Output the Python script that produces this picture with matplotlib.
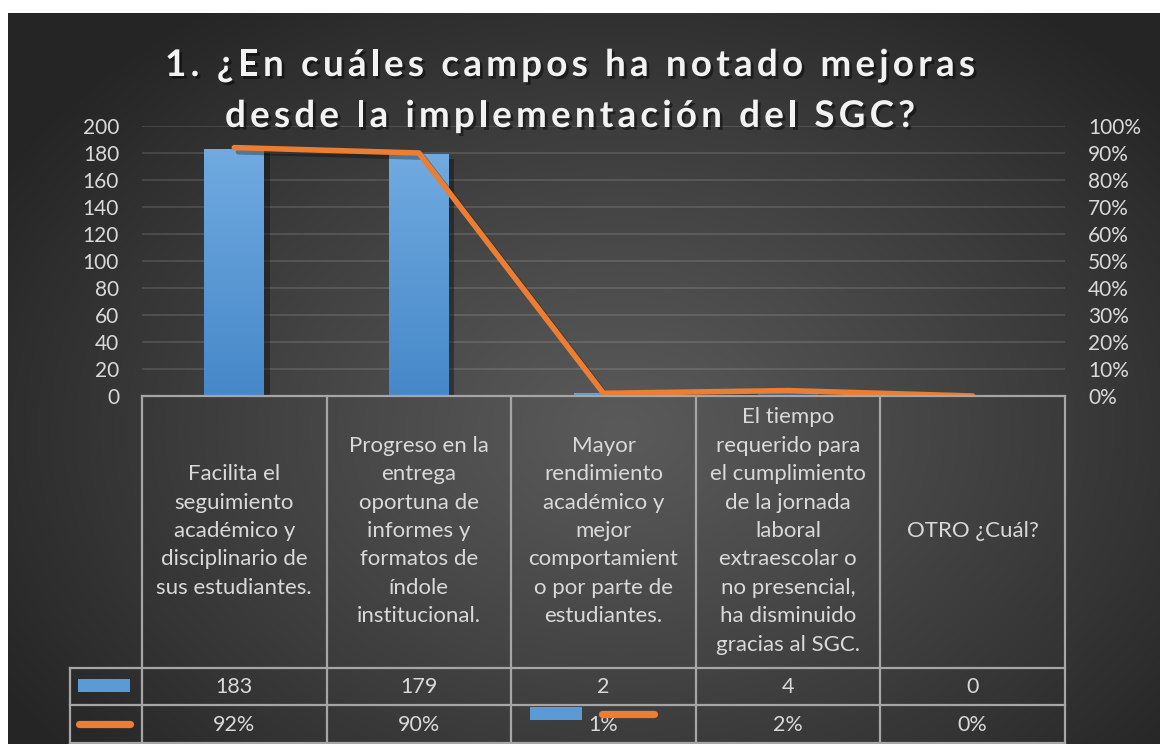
import numpy as np
import matplotlib
matplotlib.use("Agg")
import matplotlib.pyplot as plt
from matplotlib.colors import LinearSegmentedColormap, to_rgb
from matplotlib.font_manager import FontProperties
from matplotlib.lines import Line2D
from matplotlib.patches import Rectangle
from matplotlib.transforms import blended_transform_factory
import matplotlib.patheffects as pe

# ---------------- data ----------------
categories = [
    "Facilita el\nseguimiento\nacadémico y\ndisciplinario de\nsus estudiantes.",
    "Progreso en la\nentrega\noportuna de\ninformes y\nformatos de\níndole\ninstitucional.",
    "Mayor\nrendimiento\nacadémico y\nmejor\ncomportamient\no por parte de\nestudiantes.",
    "El tiempo\nrequerido para\nel cumplimiento\nde la jornada\nlaboral\nextraescolar o\nno presencial,\nha disminuido\ngracias al SGC.",
    "OTRO ¿Cuál?",
]
counts = [183, 179, 2, 4, 0]
percents = [0.92, 0.90, 0.01, 0.02, 0.00]
count_labels = ["183", "179", "2", "4", "0"]
percent_labels = ["92%", "90%", "1%", "2%", "0%"]
left_ticks = list(range(0, 201, 20))
right_ticks = [i / 10 for i in range(11)]
right_tick_labels = [f"{i*10}%" for i in range(11)]
title_lines = ["1. ¿En cuáles campos ha notado mejoras",
               "desde la implementación del SGC?"]

# ---------------- style ----------------
W, H = 1160, 744
FONT = "Lato"
TXT = "#d9d9d9"
BLUE = "#5b9bd5"
BLUE_TOP = "#70aae0"
BLUE_BOT = "#4688c9"
ORANGE = "#ed7d31"
GRIDC = "#ffffff"
TABLE_LINE = "#a6a6a6"

plt.rcParams["font.family"] = [FONT, "DejaVu Sans"]

def fx(px):
    return px / W

def fy(py):
    return 1 - py / H

fig = plt.figure(figsize=(W / 100, H / 100), dpi=100, facecolor="white")

# background radial gradient
bg = fig.add_axes([fx(8), 0, fx(W - 8), (H - 13) / H], zorder=-10)
bg.set_axis_off()
yy, xx = np.mgrid[13:H, 8:W]
cx, cy = 620, 430
d = np.sqrt(((xx - cx) / 720.0) ** 2 + ((yy - cy) / 520.0) ** 2)
d = np.clip(d, 0, 1) ** 1.1
c0 = np.array(to_rgb("#5a5a5a"))
c1 = np.array(to_rgb("#252525"))
img = c0[None, None, :] * (1 - d[..., None]) + c1[None, None, :] * d[..., None]
bg.imshow(img, aspect="auto", interpolation="bilinear")

# main axes
ax = fig.add_axes([fx(142), fy(396), fx(1065 - 142), 270 / H])
ax.set_facecolor("none")
x = np.arange(len(categories))
bar_w = 0.325
bars = ax.bar(x, counts, width=bar_w, color=BLUE, zorder=3,
              path_effects=[pe.SimplePatchShadow(offset=(4, -3), shadow_rgbFace="black", alpha=0.35),
                            pe.Normal()])
cmap = LinearSegmentedColormap.from_list("bar", [BLUE_BOT, BLUE_TOP])
grad = np.linspace(0, 1, 256).reshape(-1, 1)
for b in bars:
    if b.get_height() <= 0:
        continue
    x0, y0 = b.get_x(), b.get_y()
    im = ax.imshow(grad, extent=[x0, x0 + b.get_width(), y0, y0 + b.get_height()],
                   origin="lower", cmap=cmap, aspect="auto", zorder=3.5, interpolation="bilinear")
    im.set_clip_path(b)

ax.set_xlim(-0.5, len(categories) - 0.5)
ax.set_ylim(0, 200)
ax.set_yticks(left_ticks)
ax.set_yticklabels([str(t) for t in left_ticks])
ax.set_xticks([])
for s in ax.spines.values():
    s.set_visible(False)
ax.tick_params(axis="y", length=0, pad=16.5, labelsize=15, labelcolor=TXT)
ax.yaxis.grid(True, color=GRIDC, alpha=0.13, linewidth=1.3, zorder=0)
ax.set_axisbelow(True)

ax2 = ax.twinx()
ax2.set_ylim(0, 1)
ax2.set_yticks(right_ticks)
ax2.set_yticklabels(right_tick_labels)
for s in ax2.spines.values():
    s.set_visible(False)
ax2.tick_params(axis="y", length=0, pad=16.5, labelsize=15, labelcolor=TXT)
ax2.plot(x, percents, color=ORANGE, linewidth=4.0, solid_capstyle="round", zorder=5,
         path_effects=[pe.SimpleLineShadow(offset=(3, -3), shadow_color="black", alpha=0.3),
                       pe.Normal()])

# ---------------- data table ----------------
bt = blended_transform_factory(ax.transData, fig.transFigure)
lw = 1.6
fig.add_artist(Line2D([fx(142), fx(1065)], [fy(396), fy(396)], color=TABLE_LINE, lw=lw, zorder=6))
for py in (668, 705, 743):
    fig.add_artist(Line2D([fx(70), fx(1065)], [fy(py), fy(py)], color=TABLE_LINE, lw=lw))
for xb in np.arange(-0.5, len(categories), 1.0):
    fig.add_artist(Line2D([xb, xb], [fy(396), fy(744)], color=TABLE_LINE, lw=lw, transform=bt))
fig.add_artist(Line2D([fx(70), fx(70)], [fy(668), fy(744)], color=TABLE_LINE, lw=lw))

for i, lab in enumerate(categories):
    fig.text(x[i], fy(531), lab, transform=bt, ha="center", va="center",
             multialignment="center", color=TXT, fontsize=16, linespacing=1.53)
    fig.text(x[i], fy(687), count_labels[i], transform=bt, ha="center", va="center",
             color=TXT, fontsize=15.5)
    fig.text(x[i], fy(725), percent_labels[i], transform=bt, ha="center", va="center",
             color=TXT, fontsize=15.5)

# legend keys inside the table
fig.add_artist(Rectangle((fx(78), fy(692)), fx(52), 13 / H, facecolor=BLUE, edgecolor="none"))
fig.add_artist(Line2D([fx(79), fx(130)], [fy(724), fy(724)], color=ORANGE, lw=5.2,
                      solid_capstyle="round"))
# floating legend
fig.add_artist(Rectangle((fx(530), fy(720)), fx(52), 13 / H, facecolor=BLUE, edgecolor="none", zorder=8))
fig.add_artist(Line2D([fx(602), fx(654)], [fy(714), fy(714)], color=ORANGE, lw=5.2,
                      solid_capstyle="round", zorder=8))

# ---------------- title with letter spacing ----------------
renderer = fig.canvas.get_renderer()
tprop = FontProperties(family=FONT, weight="bold", size=26.5)

def text_w(s):
    w, h, dsc = renderer.get_text_width_height_descent(s + "l", tprop, ismath=False)
    w0, _, _ = renderer.get_text_width_height_descent("l", tprop, ismath=False)
    return w - w0

def spaced_title(s, cx_px, base_px, target_w):
    nat = text_w(s)
    sp = (target_w - nat) / max(len(s) - 1, 1)
    start = cx_px - target_w / 2
    for i, ch in enumerate(s):
        off = text_w(s[:i]) + i * sp
        fig.text(fx(start + off), fy(base_px), ch, fontproperties=tprop, color="#f2f2f2",
                 ha="left", va="baseline",
                 path_effects=[pe.SimplePatchShadow(offset=(2, -2), shadow_rgbFace="black", alpha=0.45),
                               pe.Normal()])

spaced_title(title_lines[0], 570, 76, 810)
spaced_title(title_lines[1], 570, 127, 690)

fig.savefig("out.png", dpi=100, facecolor="white")
